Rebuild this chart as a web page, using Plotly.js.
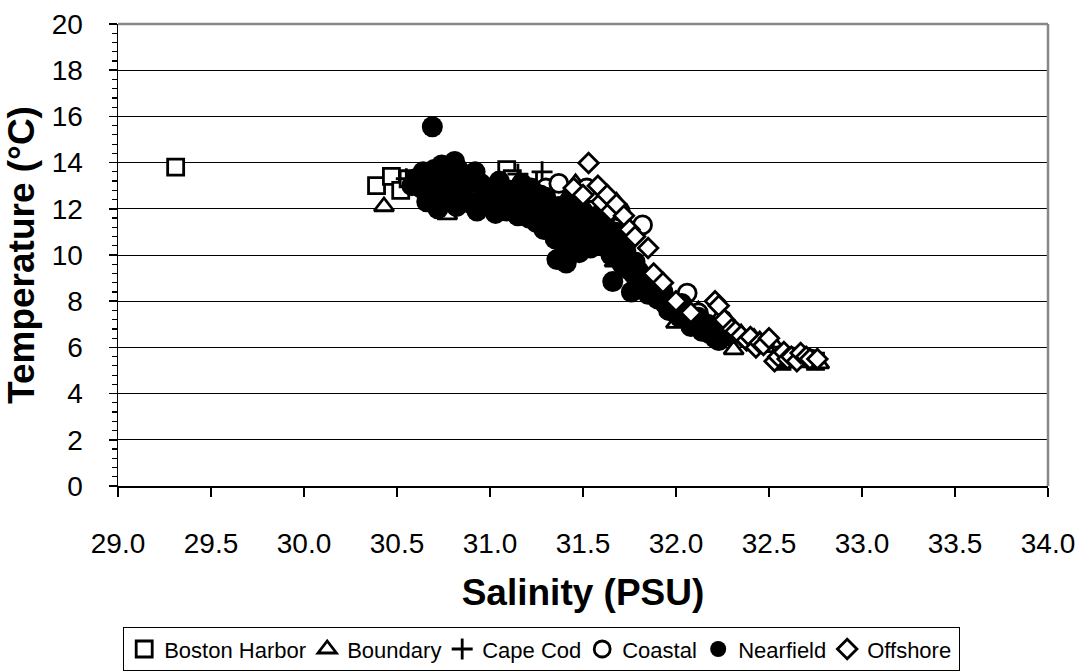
<!DOCTYPE html>
<html>
<head>
<meta charset="utf-8">
<script src="https://cdn.plot.ly/plotly-3.0.1.min.js"></script>
<style>
  html, body { margin: 0; padding: 0; background: #fff; }
  #chart { width: 1083px; height: 672px; }
</style>
</head>
<body>
<div id="chart"></div>
<script>
// Temperature vs. salinity, by station region

const bostonHarborSal  = [29.31, 30.39, 30.47, 30.52, 30.56, 31.09, 31.12, 32.57, 32.60, 32.66, 32.70, 32.75];
const bostonHarborTemp = [13.8, 13.0, 13.4, 12.8, 13.3, 13.7, 13.3, 5.4, 5.5, 5.6, 5.5, 5.4];

const boundarySal  = [30.43, 30.77, 31.46, 31.56, 31.68, 31.70, 31.67, 32.00, 32.12, 32.31,
                      32.35, 32.42, 32.45, 32.48, 32.52, 32.58, 32.62, 32.68, 32.72, 32.77];
const boundaryTemp = [12.1, 11.75, 13.1, 12.5, 12.3, 11.5, 9.7, 7.05, 7.6, 5.9,
                      6.6, 6.4, 6.3, 6.0, 6.2, 5.4, 5.5, 5.6, 5.4, 5.3];

const capeCodSal  = [30.55, 31.15, 31.28, 31.25, 31.50, 31.70, 32.00, 32.20];
const capeCodTemp = [13.3, 13.5, 13.6, 13.1, 12.8, 11.8, 7.6, 6.9];

const coastalSal  = [31.30, 31.37, 31.45, 31.52, 31.66, 31.70, 31.82, 31.88, 32.06, 32.12, 32.25, 32.62, 32.72];
const coastalTemp = [12.9, 13.1, 12.6, 12.9, 12.2, 11.9, 11.3, 9.0, 8.35, 7.5, 7.2, 5.6, 5.5];

const nearfieldSal = [
  30.58, 30.60, 30.63, 30.64, 30.66, 30.67, 30.69, 30.70, 30.71, 30.72,
  30.74, 30.75, 30.76, 30.78, 30.79, 30.81, 30.82, 30.83, 30.84, 30.86,
  30.87, 30.88, 30.90, 30.92, 30.93, 30.95, 30.96, 30.98, 30.99, 31.01,
  31.02, 31.03, 31.05, 31.06, 31.07, 31.09, 31.10, 31.11, 31.12, 31.13,
  31.14, 31.15, 31.17, 31.18, 31.19, 31.21, 31.22, 31.23, 31.24, 31.25,
  31.26, 31.27, 31.28, 31.29, 31.30, 31.31, 31.32, 31.33, 31.34, 31.35,
  31.36, 31.37, 31.38, 31.39, 31.40, 31.41, 31.42, 31.43, 31.44, 31.45,
  31.46, 31.47, 31.48, 31.49, 31.50, 31.51, 31.52, 31.53, 31.54, 31.55,
  31.56, 31.57, 31.58, 31.59, 31.60, 31.61, 31.62, 31.63, 31.64, 31.65,
  31.66, 31.67, 31.68, 31.69, 31.70, 31.71, 31.72, 31.73, 31.74, 31.76,
  31.77, 31.78, 31.79, 31.80, 31.81, 31.83, 31.84, 31.85, 31.86, 31.88,
  31.90, 31.91, 31.93, 31.94, 31.96, 31.97, 31.99, 32.00, 32.02, 32.03,
  32.05, 32.06, 32.08, 32.09, 32.11, 32.12, 32.14, 32.15, 32.17, 32.18,
  32.20, 32.21, 32.23, 32.24, 32.26, 32.27, 32.30
];
const nearfieldTemp = [
  13.0, 13.3, 12.9, 13.6, 12.3, 12.8, 15.55, 13.7, 13.2, 12.0,
  13.9, 12.3, 12.7, 13.3, 12.9, 14.05, 12.1, 13.7, 13.0, 12.5,
  13.0, 13.4, 12.2, 13.6, 11.9, 13.1, 12.5, 12.2, 12.9, 12.1,
  12.6, 11.8, 13.2, 12.0, 12.4, 11.9, 12.5, 12.8, 11.9, 12.2,
  12.7, 11.7, 13.1, 12.1, 12.5, 11.6, 12.9, 12.0, 11.8, 11.4,
  12.3, 12.6, 11.7, 11.1, 12.5, 11.8, 11.5, 11.3, 12.0, 10.7,
  9.8, 12.1, 11.2, 11.5, 10.3, 9.65, 11.7, 12.4, 11.0, 11.4,
  10.6, 12.0, 10.1, 10.8, 11.9, 10.5, 11.3, 11.0, 10.3, 11.6,
  10.8, 10.4, 11.7, 11.0, 10.4, 11.4, 11.1, 10.7, 10.3, 10.0,
  8.85, 11.0, 10.6, 10.3, 9.9, 9.6, 10.8, 10.2, 9.4, 8.4,
  9.2, 9.7, 8.9, 9.3, 8.6, 8.9, 9.0, 8.3, 8.5, 8.6,
  8.1, 8.2, 8.4, 7.9, 7.6, 7.7, 7.8, 7.5, 7.3, 7.9,
  7.6, 7.2, 6.9, 7.0, 7.1, 7.3, 6.7, 6.9, 7.0, 6.6,
  6.6, 6.4, 6.3, 6.7, 6.8, 6.5, 6.6
];

const offshoreSal  = [31.45, 31.50, 31.53, 31.58, 31.60, 31.63, 31.65, 31.68, 31.72, 31.75,
                      31.78, 31.85, 31.88, 31.93, 32.00, 32.08, 32.21, 32.23, 32.26, 32.30,
                      32.32, 32.35, 32.38, 32.40, 32.43, 32.45, 32.47, 32.50, 32.53, 32.55,
                      32.58, 32.60, 32.62, 32.65, 32.67, 32.70, 32.72, 32.76];
const offshoreTemp = [12.9, 12.6, 13.98, 13.0, 12.3, 12.6, 11.9, 12.2, 11.7, 11.1,
                      10.8, 10.3, 9.2, 8.8, 8.0, 7.5, 8.0, 7.8, 7.2, 6.8,
                      6.7, 6.5, 6.3, 6.45, 6.0, 6.2, 6.1, 6.4, 5.4, 5.6,
                      5.8, 5.5, 5.6, 5.4, 5.76, 5.6, 5.5, 5.5];

const salinityTicks = [29.0, 29.5, 30.0, 30.5, 31.0, 31.5, 32.0, 32.5, 33.0, 33.5, 34.0];
const temperatureTicks = [0, 2, 4, 6, 8, 10, 12, 14, 16, 18, 20];

const FONT = 'Arial, "Liberation Sans", sans-serif';
const INK = '#000000';
const LEGEND_SIZE = 22;

// Legend entries sit close together: each entry's slot is its label width
// (Arial advance widths) trimmed a little so the next symbol follows closely.
const ARIAL_W = {
  ' ': 0.278, 'B': 0.667, 'C': 0.722, 'H': 0.722, 'N': 0.722, 'O': 0.778,
  'a': 0.556, 'b': 0.556, 'd': 0.556, 'e': 0.556, 'f': 0.278, 'h': 0.556,
  'i': 0.222, 'l': 0.222, 'n': 0.556, 'o': 0.556, 'p': 0.556, 'r': 0.333,
  's': 0.5, 't': 0.278, 'u': 0.556, 'y': 0.5
};
function labelWidth(txt) {
  let w = 0;
  for (const ch of txt) w += (ARIAL_W[ch] || 0.556);
  return w * LEGEND_SIZE;
}

function series(name, x, y, marker, last) {
  const trim = last ? -2 : 4;
  return { type: 'scatter', mode: 'markers', name: name, x: x, y: y,
           marker: marker, cliponaxis: false, hoverinfo: 'x+y+name',
           legendwidth: Math.round(labelWidth(name) - trim) };
}

const traces = [
  series('Boston Harbor', bostonHarborSal, bostonHarborTemp,
    { symbol: 'square', size: 16, color: '#ffffff', line: { color: INK, width: 2.8 } }),
  series('Boundary', boundarySal, boundaryTemp,
    { symbol: 'triangle-up', size: 17, color: '#ffffff', line: { color: INK, width: 2.8 } }),
  series('Cape Cod', capeCodSal, capeCodTemp,
    { symbol: 'cross-thin-open', size: 15, color: INK, line: { color: INK, width: 2.8 } }),
  series('Coastal', coastalSal, coastalTemp,
    { symbol: 'circle', size: 18, color: '#ffffff', line: { color: INK, width: 2.8 } }),
  series('Nearfield', nearfieldSal, nearfieldTemp,
    { symbol: 'circle', size: 21, color: INK, line: { color: INK, width: 0 } }),
  series('Offshore', offshoreSal, offshoreTemp,
    { symbol: 'diamond', size: 15, color: '#ffffff', line: { color: INK, width: 2.8 } }, true)
];

const layout = {
  width: 1083, height: 672,
  margin: { l: 118, r: 35, t: 24, b: 186, autoexpand: false },
  paper_bgcolor: '#ffffff', plot_bgcolor: '#ffffff',
  font: { family: FONT, color: INK, size: 28 },
  showlegend: true,
  legend: {
    orientation: 'h', xref: 'container', x: 0.5, xanchor: 'center',
    yref: 'container', y: 1 / 672, yanchor: 'bottom', valign: 'middle',
    font: { family: FONT, size: LEGEND_SIZE, color: INK },
    bordercolor: INK, borderwidth: 1.2, bgcolor: '#ffffff',
    itemclick: false, itemdoubleclick: false, tracegroupgap: 0
  },
  xaxis: {
    range: [29, 34], tickvals: salinityTicks, tickformat: '.1f',
    ticks: 'outside', ticklen: 9, tickwidth: 1.5, tickcolor: INK,
    showline: true, linecolor: INK, linewidth: 1.5,
    showgrid: false, zeroline: false, automargin: false,
    tickfont: { family: FONT, size: 28, color: INK },
    ticklabelstandoff: 23,
    title: { text: 'Salinity (PSU)', font: { family: FONT, size: 37, color: INK, weight: 'bold' }, standoff: 21 },
    fixedrange: true
  },
  yaxis: {
    range: [0, 20], tickvals: temperatureTicks,
    ticks: 'outside', ticklen: 8, tickwidth: 1.5, tickcolor: INK,
    minor: { dtick: 0.4, ticks: 'outside', ticklen: 5, tickwidth: 1.2, tickcolor: INK, showgrid: false },
    showline: true, linecolor: INK, linewidth: 1.5,
    showgrid: true, gridcolor: '#000000', gridwidth: 1, zeroline: false, automargin: false,
    tickfont: { family: FONT, size: 28, color: INK },
    ticklabelstandoff: 20,
    title: { text: 'Temperature (°C)', font: { family: FONT, size: 37, color: INK, weight: 'bold' }, standoff: 6 },
    fixedrange: true
  },
  shapes: [
    { type: 'line', xref: 'paper', yref: 'paper', x0: 0, x1: 1, y0: 1, y1: 1,
      line: { color: '#888888', width: 2.5 }, layer: 'above' },
    { type: 'line', xref: 'paper', yref: 'paper', x0: 1, x1: 1, y0: 0, y1: 1,
      line: { color: '#888888', width: 2.5 }, layer: 'above' }
  ]
};

Plotly.newPlot('chart', traces, layout, { displayModeBar: false, staticPlot: true });
</script>
</body>
</html>
